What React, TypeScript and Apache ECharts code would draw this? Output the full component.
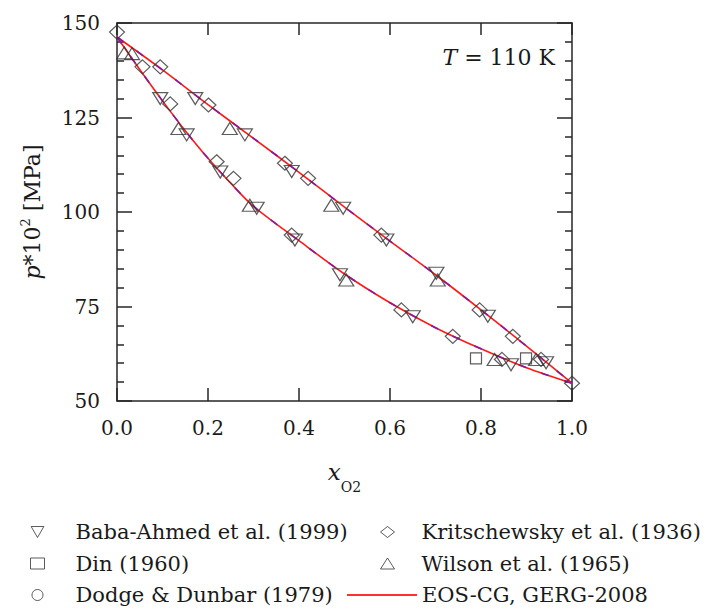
import React, { useEffect, useRef } from "react";
import * as echarts from "echarts";

const FONT = "DejaVu Serif";
const TEXT = "#1a1a1a";
const AXIS = "#262626";
const MARK = "#333333";

// x ticks / y ticks
const xRange = [0, 1];
const xStep = 0.2;
const yRange = [50, 150];
const yStep = 25;

// Experimental data: [x_O2, p*10^2 MPa]
const babaAhmed: [number, number][] = [
  [0.095, 130.0], [0.172, 130.0],
  [0.153, 120.4], [0.281, 120.4],
  [0.227, 110.6], [0.384, 110.7],
  [0.307, 101.0], [0.497, 101.0],
  [0.391, 92.6], [0.592, 92.6],
  [0.49, 83.4], [0.702, 83.8],
  [0.65, 72.3], [0.815, 72.4],
  [0.866, 59.6], [0.943, 60.1],
];
const din: [number, number][] = [
  [0.789, 61.3], [0.899, 61.3],
];
const dodgeDunbar: [number, number][] = [];
const kritschewsky: [number, number][] = [
  [0.0, 147.6],
  [0.056, 138.4], [0.095, 138.4],
  [0.117, 128.6], [0.201, 128.3],
  [0.219, 113.3], [0.369, 112.9],
  [0.256, 108.9], [0.42, 108.9],
  [0.384, 93.9], [0.581, 93.9],
  [0.625, 74.1], [0.797, 74.1],
  [0.738, 67.1], [0.87, 67.1],
  [0.846, 61.0], [0.932, 61.0],
  [1.0, 54.7],
];
const wilson: [number, number][] = [
  [0.016, 142.1], [0.033, 141.9],
  [0.135, 122.1], [0.248, 122.1],
  [0.292, 101.8], [0.471, 101.8],
  [0.504, 82.0], [0.705, 82.0],
  [0.83, 61.0], [0.921, 61.0],
];

// Equation-of-state curves (EOS-CG / GERG-2008)
const dewCurve: [number, number][] = [
  [0, 146.3], [0.05, 137.7], [0.1, 129.4], [0.15, 121.5], [0.2, 114.2],
  [0.25, 107.6], [0.3, 101.5], [0.4, 92.4], [0.5, 83.6], [0.6, 76.0],
  [0.7, 69.4], [0.8, 63.8], [0.9, 58.8], [1.0, 54.7],
];
const bubbleCurve: [number, number][] = [
  [0, 146.3], [0.1, 137.6], [0.2, 128.4], [0.3, 119.5], [0.4, 110.5],
  [0.5, 101.3], [0.6, 92.3], [0.7, 83.4], [0.8, 74.1], [0.9, 64.5], [1.0, 54.7],
];

const NAMES = {
  baba: "Baba-Ahmed et al. (1999)",
  din: "Din (1960)",
  dodge: "Dodge & Dunbar (1979)",
  krit: "Kritschewsky et al. (1936)",
  wilson: "Wilson et al. (1965)",
  eos: "EOS-CG, GERG-2008",
};

const TRIANGLE_DOWN = "path://M0,0L10,0L5,8.66Z";

function scatter(name: string, data: [number, number][], symbol: string, size: any) {
  return {
    type: "scatter",
    name,
    data,
    symbol,
    symbolSize: size,
    z: 3,
    itemStyle: { color: "rgba(255,255,255,0)", borderColor: MARK, borderWidth: 1.2 },
    emphasis: { disabled: true },
  };
}

function curve(name: string, data: [number, number][], color: string, dashed: boolean, z: number) {
  return {
    type: "line",
    name,
    data,
    smooth: 0.3,
    symbol: "none",
    showSymbol: false,
    z,
    lineStyle: { color, width: 1.6, type: dashed ? [8, 16] : "solid" },
    itemStyle: { color },
    emphasis: { disabled: true },
  };
}

const axisLine = { show: true, onZero: false, lineStyle: { color: AXIS, width: 1.5 } };
const legendText = (pad: number) => ({
  fontSize: 21,
  fontFamily: FONT,
  color: TEXT,
  lineHeight: 26,
  padding: [0, 0, 0, pad],
});

const option: any = {
  animation: false,
  backgroundColor: "#ffffff",
  textStyle: { fontFamily: FONT },
  grid: { left: 117, right: 136, top: 23, bottom: 211, containLabel: false, outerBoundsMode: "none" },
  xAxis: [
    {
      type: "value",
      position: "bottom",
      min: xRange[0],
      max: xRange[1],
      interval: xStep,
      axisLine,
      axisTick: { show: true, inside: true, length: 13, lineStyle: { color: AXIS, width: 1.5 } },
      axisLabel: {
        show: true,
        margin: 17,
        fontSize: 20,
        fontFamily: FONT,
        color: TEXT,
        showMinLabel: true,
        showMaxLabel: true,
        formatter: (v: number) => v.toFixed(1),
      },
      splitLine: { show: false },
      name: "{i|x}{s|O2}",
      nameLocation: "middle",
      nameGap: 59,
      nameTextStyle: {
        fontFamily: FONT,
        rich: {
          i: { fontSize: 23, fontStyle: "italic", fontFamily: FONT, color: TEXT, lineHeight: 26, verticalAlign: "top" },
          s: { fontSize: 14, fontFamily: FONT, color: TEXT, lineHeight: 14, padding: [20, 0, 0, 0], verticalAlign: "top" },
        },
      },
    },
    {
      type: "value",
      position: "top",
      min: xRange[0],
      max: xRange[1],
      interval: xStep,
      axisLine,
      axisTick: { show: true, inside: true, length: 12, lineStyle: { color: AXIS, width: 1.5 } },
      axisLabel: { show: false },
      splitLine: { show: false },
    },
  ],
  yAxis: [
    {
      type: "value",
      position: "left",
      min: yRange[0],
      max: yRange[1],
      interval: yStep,
      axisLine,
      axisTick: { show: true, inside: true, length: 15, lineStyle: { color: AXIS, width: 1.5 } },
      minorTick: { show: true, splitNumber: 5, length: 7, lineStyle: { color: AXIS, width: 1.5 } },
      axisLabel: {
        show: true,
        margin: 17,
        fontSize: 20,
        fontFamily: FONT,
        color: TEXT,
        showMinLabel: true,
        showMaxLabel: true,
      },
      splitLine: { show: false },
      minorSplitLine: { show: false },
      name: "{i|p}{n|*10}{s|2}{n| [MPa]}",
      nameLocation: "middle",
      nameGap: 72,
      nameTextStyle: {
        fontFamily: FONT,
        rich: {
          i: { fontSize: 22, fontStyle: "italic", fontFamily: FONT, color: TEXT, lineHeight: 26 },
          n: { fontSize: 22, fontFamily: FONT, color: TEXT, lineHeight: 26 },
          s: { fontSize: 13, fontFamily: FONT, color: TEXT, lineHeight: 13, verticalAlign: "top" },
        },
      },
    },
    {
      type: "value",
      position: "right",
      min: yRange[0],
      max: yRange[1],
      interval: yStep,
      axisLine,
      axisTick: { show: true, inside: true, length: 15, lineStyle: { color: AXIS, width: 1.5 } },
      minorTick: { show: true, splitNumber: 5, length: 7, lineStyle: { color: AXIS, width: 1.5 } },
      axisLabel: { show: false },
      splitLine: { show: false },
      minorSplitLine: { show: false },
    },
  ],
  legend: [
    {
      orient: "vertical",
      left: 30,
      top: 519,
      padding: 0,
      itemWidth: 14,
      itemHeight: 11,
      itemGap: 5.5,
      selectedMode: false,
      data: [NAMES.baba, NAMES.din, NAMES.dodge],
      textStyle: legendText(26),
      itemStyle: { borderWidth: 1 },
    },
    {
      orient: "vertical",
      left: 380,
      top: 519,
      padding: 0,
      itemWidth: 14,
      itemHeight: 11,
      itemGap: 5.5,
      selectedMode: false,
      data: [NAMES.krit, NAMES.wilson],
      textStyle: legendText(22),
      itemStyle: { borderWidth: 1 },
    },
    {
      orient: "vertical",
      left: 346,
      top: 582,
      padding: 0,
      itemWidth: 70,
      itemHeight: 12,
      selectedMode: false,
      data: [NAMES.eos],
      textStyle: legendText(0),
      itemStyle: { color: "rgba(0,0,0,0)", borderWidth: 0, opacity: 0 },
      lineStyle: { type: "solid", width: 2, color: "#ff3030" },
    },
  ],
  graphic: [
    {
      type: "text",
      x: 555,
      y: 57.5,
      style: {
        text: "{i|T}{n| = 110 K}",
        align: "right",
        verticalAlign: "middle",
        fontFamily: FONT,
        rich: {
          i: { fontSize: 22, fontStyle: "italic", fontFamily: FONT, fill: TEXT },
          n: { fontSize: 22, fontFamily: FONT, fill: TEXT },
        },
      },
    },
  ],
  series: [
    curve(NAMES.eos, dewCurve, "#ff1a1a", false, 2),
    curve(NAMES.eos, bubbleCurve, "#ff1a1a", false, 2),
    curve("GERG-2008", dewCurve, "#8a1a9a", true, 2),
    curve("GERG-2008", bubbleCurve, "#8a1a9a", true, 2),
    scatter(NAMES.baba, babaAhmed, TRIANGLE_DOWN, [15, 12]),
    scatter(NAMES.din, din, "rect", 11),
    scatter(NAMES.dodge, dodgeDunbar, "circle", 11),
    scatter(NAMES.krit, kritschewsky, "diamond", [15, 14]),
    scatter(NAMES.wilson, wilson, "triangle", [15, 12]),
  ],
};

export default function App() {
  const ref = useRef<HTMLDivElement>(null);
  useEffect(() => {
    if (!ref.current) return;
    const chart = echarts.init(ref.current, undefined, { renderer: "svg" });
    chart.setOption(option);
    return () => {
      chart.dispose();
    };
  }, []);
  return (
    <div
      ref={ref}
      style={{ position: "fixed", left: 0, top: 0, width: 708, height: 612, background: "#ffffff" }}
    />
  );
}
